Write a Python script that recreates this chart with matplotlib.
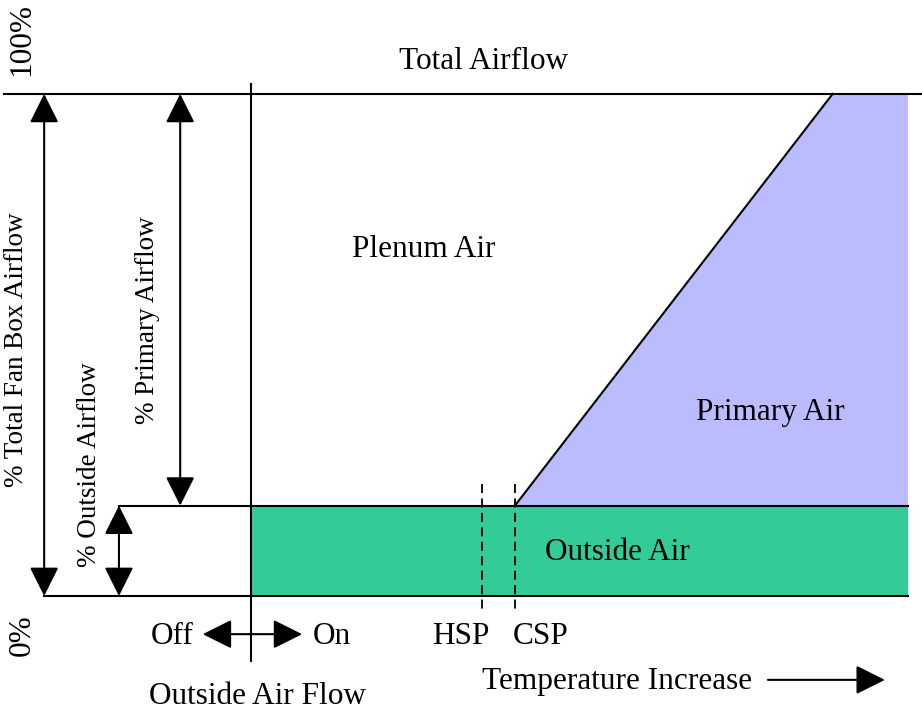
import matplotlib.pyplot as plt
from matplotlib.patches import Polygon

# airflow levels (% of total fan box airflow)
total_pct = 100
outside_pct = 18

# positions along the temperature axis (arbitrary units, 0 = outside air damper on/off)
onoff_x = 0
hsp_x = 46
csp_x = 52.6
primary_max_x = 115.9
right_x = 130.9

# dimension arrows on the left (x positions)
total_arrow_x = -41.2
primary_arrow_x = -14.1
outside_arrow_x = -26.3

plt.rcParams['font.family'] = ['Liberation Serif', 'DejaVu Serif']
fs = 22.5
fs_side = 19.5

fig = plt.figure(figsize=(9.22, 7.13), dpi=100)
ax = fig.add_axes([0, 0, 1, 1])
ax.set_xlim(-50, 133.7)
ax.set_ylim(-23.3, 118.7)
ax.axis('off')

# outside air band
ax.fill_between([onoff_x, right_x], 0, outside_pct, color='#33CC99', lw=0, zorder=1)
# primary air wedge
prim = Polygon([(csp_x, outside_pct), (primary_max_x, total_pct), (right_x, total_pct), (right_x, outside_pct)],
               closed=True, facecolor='#BBBBFF', edgecolor='none', zorder=1)
ax.add_patch(prim)

lk = dict(color='black', lw=1.5, zorder=3)
ax.plot([-49.2, 133.7], [total_pct, total_pct], **lk)
ax.plot([total_arrow_x, right_x], [0, 0], **lk)
ax.plot([outside_arrow_x, right_x], [outside_pct, outside_pct], **lk)
ax.plot([onoff_x, onoff_x], [102, -12.9], **lk)
ax.plot([csp_x, primary_max_x], [outside_pct, total_pct], **lk)
for x in [hsp_x, csp_x]:
    ax.plot([x, x], [22.3, -3.4], color='black', lw=1.3, ls=(0, (5, 3)), zorder=3)

arr = dict(arrowstyle='<|-|>,head_length=0.9,head_width=0.45', color='black', lw=1.5,
           mutation_scale=20, shrinkA=0, shrinkB=0)
ax.annotate('', xy=(total_arrow_x, total_pct), xytext=(total_arrow_x, 0), arrowprops=arr)
ax.annotate('', xy=(primary_arrow_x, total_pct), xytext=(primary_arrow_x, outside_pct), arrowprops=arr)
ax.annotate('', xy=(outside_arrow_x, outside_pct), xytext=(outside_arrow_x, 0), arrowprops=arr)
ax.annotate('', xy=(-9.6, -7.6), xytext=(10.2, -7.6), arrowprops=arr)
one = dict(arr, arrowstyle='-|>,head_length=0.9,head_width=0.45')
ax.annotate('', xy=(126.3, -16.7), xytext=(103, -16.7), arrowprops=one)

tk = dict(fontsize=fs, ha='center', va='center')
ax.text(46.4, 106.4, 'Total Airflow', **tk)
ax.text(34.5, 69.1, 'Plenum Air', **tk)
ax.text(103.4, 36.5, 'Primary Air', **tk)
ax.text(73.1, 8.6, 'Outside Air', **tk)
ax.text(-15.7, -8, 'Off', **tk)
ax.text(16.1, -8, 'On', **tk)
ax.text(41.8, -8, 'HSP', **tk)
ax.text(57.8, -8, 'CSP', **tk)
ax.text(1.4, -20.1, 'Outside Air Flow', **tk)
ax.text(72.9, -17.1, 'Temperature Increase', **tk)
ax.text(-45.6, 110.8, '100%', rotation=90, **tk)
ax.text(-45.6, -7.8, '0%', rotation=90, **tk)
sk = dict(fontsize=fs_side, ha='center', va='center', rotation=90)
ax.text(-46.8, 49, '% Total Fan Box Airflow', **sk)
ax.text(-20.7, 55, '% Primary Airflow', **sk)
ax.text(-32.1, 26.1, '% Outside Airflow', **sk)

fig.savefig('out.png', dpi=100)
